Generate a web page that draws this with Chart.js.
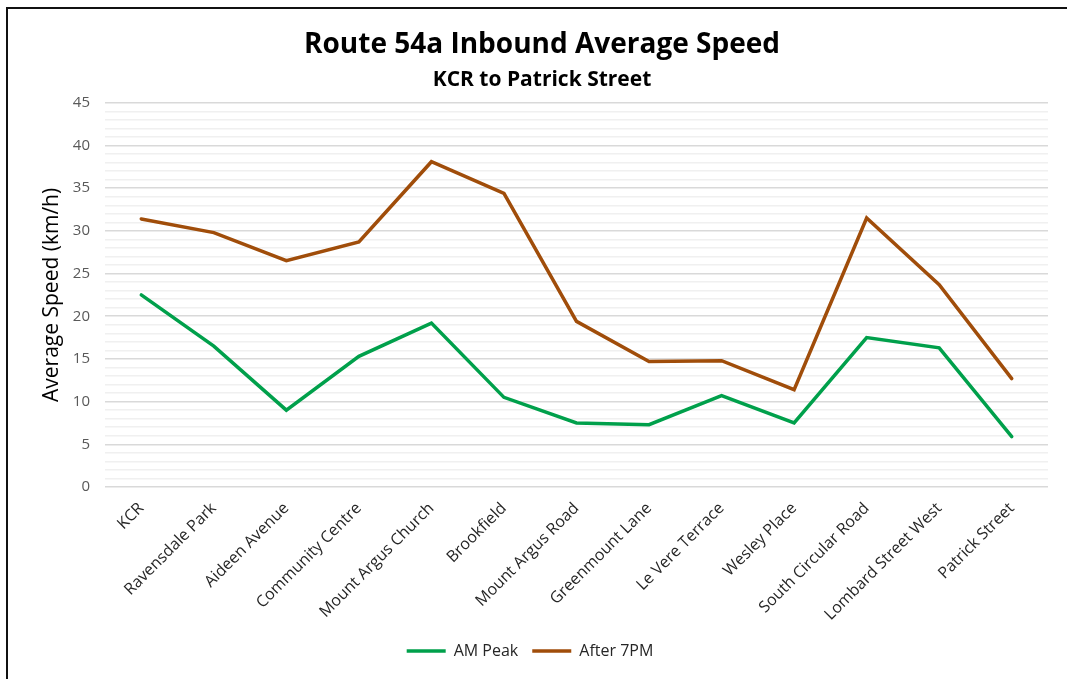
<!DOCTYPE html>
<html>
<head>
<meta charset="utf-8">
<script src="https://cdn.jsdelivr.net/npm/chart.js@4"></script>
<style>
  html, body { margin: 0; padding: 0; background: #fff; overflow: hidden; }
  #wrap { position: relative; width: 1067px; height: 679px; }
  #frame { position: absolute; left: 6px; top: 7px; width: 1100px; height: 700px; border: 2px solid #111; box-sizing: border-box; }
  canvas { position: absolute; left: 0; top: 0; }
</style>
</head>
<body>
<div id="wrap">
  <div id="frame"></div>
  <canvas id="grafico" width="1067" height="679"></canvas>
</div>
<script>
// Paradas de la ruta
const paradas = ['KCR', 'Ravensdale Park', 'Aideen Avenue', 'Community Centre', 'Mount Argus Church',
  'Brookfield', 'Mount Argus Road', 'Greenmount Lane', 'Le Vere Terrace', 'Wesley Place',
  'South Circular Road', 'Lombard Street West', 'Patrick Street'];

// Velocidades medias (km/h)
const amPeak = [22.5, 16.5, 9.0, 15.3, 19.2, 10.5, 7.5, 7.3, 10.7, 7.5, 17.5, 16.3, 5.9];
const after7pm = [31.4, 29.8, 26.5, 28.7, 38.1, 34.4, 19.4, 14.7, 14.8, 11.4, 31.5, 23.7, 12.7];

const fuente = "'Open Sans', sans-serif";

// Mover la leyenda un poco a la izquierda, como en el original
const moverLeyenda = {
  id: 'moverLeyenda',
  afterLayout(chart) {
    chart.legend.left -= 12;
    chart.legend.right -= 12;
  }
};

const ctx = document.getElementById('grafico').getContext('2d');
const grafico = new Chart(ctx, {
  type: 'line',
  data: {
    labels: paradas,
    datasets: [{
      label: 'AM Peak',
      data: amPeak,
      borderColor: '#00a04b',
      backgroundColor: '#00a04b',
      borderWidth: 3.5,
      borderCapStyle: 'round',
      pointRadius: 0,
      tension: 0
    }, {
      label: 'After 7PM',
      data: after7pm,
      borderColor: '#a04d0a',
      backgroundColor: '#a04d0a',
      borderWidth: 3.5,
      borderCapStyle: 'round',
      pointRadius: 0,
      tension: 0
    }]
  },
  options: {
    responsive: false,
    animation: false,
    layout: { padding: { top: 12, right: 19, bottom: 10, left: 36 } },
    plugins: {
      title: {
        display: true,
        text: 'Route 54a Inbound Average Speed',
        color: '#000',
        font: { family: fuente, size: 28, weight: 'bold' },
        padding: { top: 16, bottom: 4 }
      },
      subtitle: {
        display: true,
        text: 'KCR to Patrick Street',
        color: '#000',
        font: { family: fuente, size: 21, weight: 'bold' },
        padding: { top: 2, bottom: 10 }
      },
      legend: {
        position: 'bottom',
        labels: {
          usePointStyle: true,
          pointStyle: 'line',
          pointStyleWidth: 39,
          color: '#262626',
          font: { family: fuente, size: 16 },
          padding: 14
        }
      },
      tooltip: { enabled: false }
    },
    scales: {
      x: {
        offset: true,
        grid: { display: false },
        border: { display: false },
        ticks: {
          color: '#262626',
          font: { family: fuente, size: 16 },
          minRotation: 45,
          maxRotation: 45,
          autoSkip: false,
          padding: 4
        },
        afterFit: function (scale) { scale.height = 142; }
      },
      y: {
        min: 0,
        max: 45,
        border: { display: false },
        grid: {
          drawTicks: false,
          color: function (c) { return c.tick.value % 5 === 0 ? '#d9d9d9' : '#f0f0f0'; },
          lineWidth: 1.5
        },
        ticks: {
          stepSize: 1,
          autoSkip: false,
          maxTicksLimit: 100,
          padding: 15,
          color: '#595959',
          font: { family: fuente, size: 15 },
          callback: function (v) { return v % 5 === 0 ? v : ''; }
        },
        title: {
          display: true,
          text: 'Average Speed (km/h)',
          color: '#000',
          font: { family: fuente, size: 21 },
          padding: { top: 3, bottom: 0 }
        },
        afterFit: function (scale) { scale.width = 69; }
      }
    }
  },
  plugins: [moverLeyenda]
});
</script>
</body>
</html>
